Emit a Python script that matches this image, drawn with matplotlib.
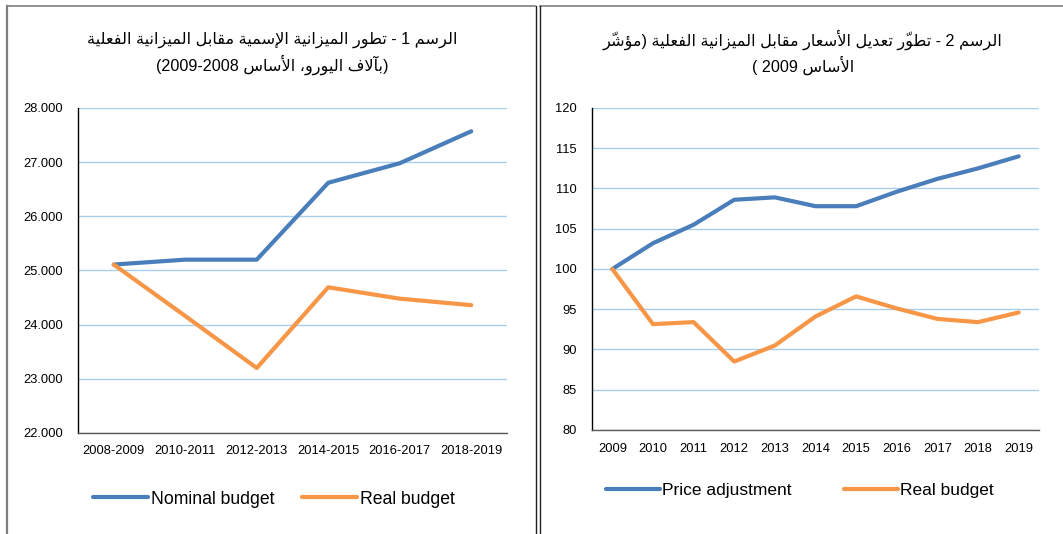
import matplotlib
matplotlib.use("Agg")
import matplotlib.pyplot as plt
from matplotlib.lines import Line2D

# ---------------- data ----------------
periods1 = ["2008-2009", "2010-2011", "2012-2013", "2014-2015", "2016-2017", "2018-2019"]
nominal_budget = [25110, 25200, 25200, 26620, 26980, 27570]
real_budget1 = [25110, 24160, 23200, 24690, 24480, 24360]
yticks1 = [22000, 23000, 24000, 25000, 26000, 27000, 28000]
ylabels1 = ["22.000", "23.000", "24.000", "25.000", "26.000", "27.000", "28.000"]

years2 = ["2009", "2010", "2011", "2012", "2013", "2014", "2015", "2016", "2017", "2018", "2019"]
price_adjustment = [100, 103.2, 105.5, 108.6, 108.9, 107.8, 107.8, 109.6, 111.2, 112.5, 114.0]
real_budget2 = [100, 93.15, 93.4, 88.5, 90.5, 94.1, 96.6, 95.1, 93.8, 93.4, 94.6]
yticks2 = [80, 85, 90, 95, 100, 105, 110, 115, 120]

title1 = ["الرسم 1 - تطور الميزانية الإسمية مقابل الميزانية الفعلية",
          "(بآلاف اليورو، الأساس 2008-2009)"]
title2 = ["الرسم 2 - تطوّر تعديل الأسعار مقابل الميزانية الفعلية (مؤشّر",
          "الأساس 2009 )"]

# ---------------- Arabic shaping (matplotlib has no text shaping) ----------------
FORMS = {
    '\u0627': ('\uFE8D', '\uFE8E', None, None),
    '\u0623': ('\uFE83', '\uFE84', None, None),
    '\u0625': ('\uFE87', '\uFE88', None, None),
    '\u0622': ('\uFE81', '\uFE82', None, None),
    '\u0624': ('\uFE85', '\uFE86', None, None),
    '\u0629': ('\uFE93', '\uFE94', None, None),
    '\u062F': ('\uFEA9', '\uFEAA', None, None),
    '\u0631': ('\uFEAD', '\uFEAE', None, None),
    '\u0632': ('\uFEAF', '\uFEB0', None, None),
    '\u0648': ('\uFEED', '\uFEEE', None, None),
    '\u0628': ('\uFE8F', '\uFE90', '\uFE91', '\uFE92'),
    '\u062A': ('\uFE95', '\uFE96', '\uFE97', '\uFE98'),
    '\u0633': ('\uFEB1', '\uFEB2', '\uFEB3', '\uFEB4'),
    '\u0634': ('\uFEB5', '\uFEB6', '\uFEB7', '\uFEB8'),
    '\u0637': ('\uFEC1', '\uFEC2', '\uFEC3', '\uFEC4'),
    '\u0639': ('\uFEC9', '\uFECA', '\uFECB', '\uFECC'),
    '\u0641': ('\uFED1', '\uFED2', '\uFED3', '\uFED4'),
    '\u0642': ('\uFED5', '\uFED6', '\uFED7', '\uFED8'),
    '\u0644': ('\uFEDD', '\uFEDE', '\uFEDF', '\uFEE0'),
    '\u0645': ('\uFEE1', '\uFEE2', '\uFEE3', '\uFEE4'),
    '\u0646': ('\uFEE5', '\uFEE6', '\uFEE7', '\uFEE8'),
    '\u0647': ('\uFEE9', '\uFEEA', '\uFEEB', '\uFEEC'),
    '\u064A': ('\uFEF1', '\uFEF2', '\uFEF3', '\uFEF4'),
}
LAMALEF = {
    '\u0627': ('\uFEFB', '\uFEFC'),
    '\u0623': ('\uFEF7', '\uFEF8'),
    '\u0625': ('\uFEF9', '\uFEFA'),
    '\u0622': ('\uFEF5', '\uFEF6'),
}
TRANSPARENT = {'\u0651', '\u064E', '\u064F', '\u0650', '\u0652'}
MIRROR = {'(': ')', ')': '('}


def shape(text):
    ch = list(text)
    n = len(ch)

    def prev_joins(i):
        j = i - 1
        while j >= 0 and ch[j] in TRANSPARENT:
            j -= 1
        return j >= 0 and ch[j] in FORMS and FORMS[ch[j]][2] is not None

    def next_letter(i):
        j = i + 1
        while j < n and ch[j] in TRANSPARENT:
            j += 1
        return (ch[j], j) if j < n else (None, n)

    out = []
    i = 0
    while i < n:
        c = ch[i]
        if c in FORMS:
            pj = prev_joins(i)
            nxt, jn = next_letter(i)
            if c == '\u0644' and nxt in LAMALEF:
                out.append([LAMALEF[nxt][1] if pj else LAMALEF[nxt][0]])
                for k in range(i + 1, jn):
                    out[-1].append(ch[k])
                i = jn + 1
                continue
            f = FORMS[c]
            nj = f[2] is not None and nxt in FORMS
            if pj and nj:
                g = f[3]
            elif pj:
                g = f[1]
            elif nj:
                g = f[2]
            else:
                g = f[0]
            out.append([g])
        elif c in TRANSPARENT and out:
            out[-1].append(c)
        else:
            out.append([c])
        i += 1
    return out


def visual(text):
    """Right-to-left visual order; digit runs stay left-to-right, the hyphen
    between years is laid out right-to-left as in the source document."""
    clusters = shape(text)
    tokens = []
    k = 0
    m = len(clusters)
    while k < m:
        c = clusters[k][0]
        if c.isdigit():
            run = []
            while k < m and clusters[k][0].isdigit():
                run.append(clusters[k][0])
                k += 1
            tokens.append(''.join(run))
        else:
            cl = clusters[k]
            base = MIRROR.get(cl[0], cl[0])
            # zero-advance marks are drawn to the right of the pen: put them
            # before their base so they sit over it in left-to-right drawing
            tokens.append(''.join(cl[1:]) + base)
            k += 1
    return ''.join(reversed(tokens))


# ---------------- figure ----------------
BLUE = "#4A7EBB"
ORANGE = "#F79646"
GRID = "#A9CDEE"
FAM = ["Liberation Sans", "DejaVu Sans"]

plt.rcParams['font.family'] = FAM

fig = plt.figure(figsize=(10.63, 5.34), dpi=100)
W, H = 1063.0, 534.0


def axes_px(x0, x1, ytop, ybot):
    return fig.add_axes([x0 / W, (H - ybot) / H, (x1 - x0) / W, (ybot - ytop) / H])


def style(ax):
    ax.set_facecolor("white")
    for s in ("top", "right"):
        ax.spines[s].set_visible(False)
    ax.spines["left"].set_color("#000000")
    ax.spines["left"].set_linewidth(1.0)
    ax.spines["bottom"].set_color("#595959")
    ax.spines["bottom"].set_linewidth(1.0)
    ax.grid(axis="y", color=GRID, linewidth=1.0)
    ax.set_axisbelow(True)
    ax.tick_params(axis="both", length=0, labelsize=9.3, colors="#000000")
    ax.tick_params(axis="y", pad=11)
    ax.tick_params(axis="x", pad=9)


# ---- chart 1 ----
ax1 = axes_px(78, 507, 108, 433)
x1 = list(range(len(periods1)))
l1, = ax1.plot(x1, nominal_budget, color=BLUE, lw=3.0, solid_capstyle="round",
               solid_joinstyle="round", label="Nominal budget")
l2, = ax1.plot(x1, real_budget1, color=ORANGE, lw=3.0, solid_capstyle="round",
               solid_joinstyle="round", label="Real budget")
ax1.set_xlim(-0.5, len(periods1) - 0.5)
ax1.set_ylim(22000, 28000)
ax1.set_xticks(x1)
ax1.set_xticklabels(periods1)
ax1.set_yticks(yticks1)
ax1.set_yticklabels(ylabels1)
style(ax1)
ax1.legend(handles=[l1, l2], loc="center", bbox_to_anchor=(274 / W, (H - 499) / H),
           bbox_transform=fig.transFigure, ncol=2, frameon=False, fontsize=12.7,
           handlelength=3.1, handletextpad=0.15, columnspacing=1.6)

# ---- chart 2 ----
ax2 = axes_px(592, 1039, 108, 430)
x2 = list(range(len(years2)))
l3, = ax2.plot(x2, price_adjustment, color=BLUE, lw=3.0, solid_capstyle="round",
               solid_joinstyle="round", label="Price adjustment")
l4, = ax2.plot(x2, real_budget2, color=ORANGE, lw=3.0, solid_capstyle="round",
               solid_joinstyle="round", label="Real budget")
ax2.set_xlim(-0.5, len(years2) - 0.5)
ax2.set_ylim(80, 120)
ax2.set_xticks(x2)
ax2.set_xticklabels(years2)
ax2.set_yticks(yticks2)
ax2.set_yticklabels([str(v) for v in yticks2])
style(ax2)
ax2.legend(handles=[l3, l4], loc="center", bbox_to_anchor=(800 / W, (H - 490) / H),
           bbox_transform=fig.transFigure, ncol=2, frameon=False, fontsize=12.5,
           handlelength=3.1, handletextpad=0.15, columnspacing=3.0)

# ---- titles ----
for lines, xc in ((title1, 272), (title2, 803)):
    fig.text(xc / W, (H - 40) / H, visual(lines[0]), ha="center", va="center",
             fontsize=11.6, family=FAM)
    fig.text(xc / W, (H - 65) / H, visual(lines[1]), ha="center", va="center",
             fontsize=11.6, family=FAM)

# ---- panel borders ----
def fline(xs, ys, color, lw):
    fig.add_artist(Line2D([x / W for x in xs], [(H - y) / H for y in ys],
                          transform=fig.transFigure, color=color, lw=lw))

fline([7, 7], [6, 534], "#7F7F7F", 1.6)
fline([7, 535], [6, 6], "#7F7F7F", 1.2)
fline([540, 1063], [6, 6], "#7F7F7F", 1.2)
fline([536, 536], [6, 534], "#202020", 1.0)
fline([539.5, 539.5], [6, 534], "#202020", 1.0)

fig.savefig("out.png", dpi=100, facecolor="white")
